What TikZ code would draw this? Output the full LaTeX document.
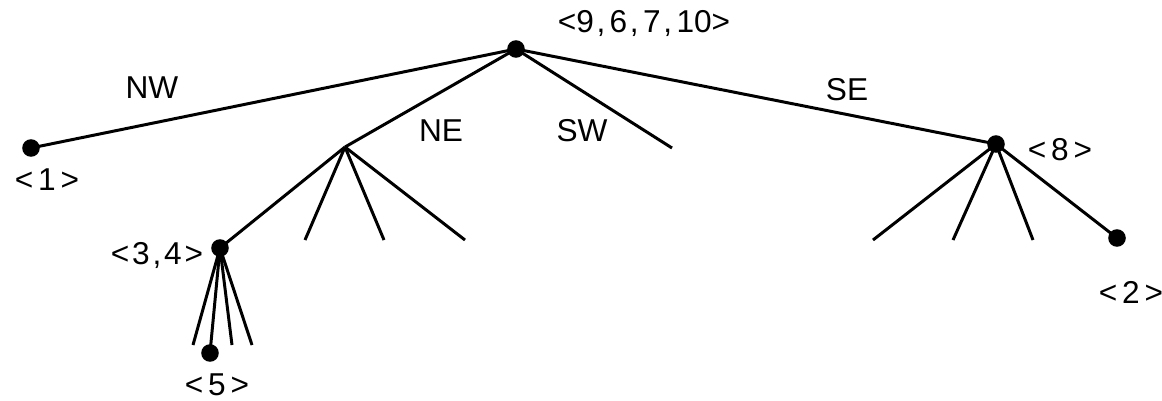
\documentclass[tikz,border=0pt]{standalone}
\usepackage{fontspec}
\setmainfont{Liberation Sans}
\newcommand{\cm}{\kern1.5pt,\kern2.5pt}
\newcommand{\gp}{\kern2.8pt}
\newcommand{\gq}{\kern1.6pt}
\tikzset{
  edge/.style={line width=1.7pt},
  dotnode/.style={circle,fill=black,inner sep=0pt,minimum size=10pt},
  lbl/.style={font=\fontsize{18}{20}\selectfont,inner sep=0pt}
}
\begin{document}
\begin{tikzpicture}[x=0.02cm,y=-0.02cm]
\useasboundingbox (0,0) rectangle (1162,400);
% nodes
\node[dotnode] (r) at (516,49) {};
\node[dotnode] (n1) at (31,148) {};
\coordinate (ne) at (345,147);
\coordinate (sw) at (672,148);
\node[dotnode] (se) at (996,144) {};
\node[dotnode] (n34) at (220,248) {};
\coordinate (ne2) at (305,240);
\coordinate (ne3) at (384,240);
\coordinate (ne4) at (465,240);
\coordinate (a1) at (193,345);
\node[dotnode] (n5) at (210,353) {};
\coordinate (a3) at (232,345);
\coordinate (a4) at (252,345);
\coordinate (s1) at (873,240);
\coordinate (s2) at (953,240);
\coordinate (s3) at (1033,240);
\node[dotnode] (n2) at (1117,238) {};
% edges
\draw[edge] (r.center) -- (n1.center);
\draw[edge] (r.center) -- (ne);
\draw[edge] (r.center) -- (sw);
\draw[edge] (r.center) -- (se.center);
\draw[edge] (ne) -- (n34.center);
\draw[edge] (ne) -- (ne2);
\draw[edge] (ne) -- (ne3);
\draw[edge] (ne) -- (ne4);
\draw[edge] (n34.center) -- (a1);
\draw[edge] (n34.center) -- (n5.center);
\draw[edge] (n34.center) -- (a3);
\draw[edge] (n34.center) -- (a4);
\draw[edge] (se.center) -- (s1);
\draw[edge] (se.center) -- (s2);
\draw[edge] (se.center) -- (s3);
\draw[edge] (se.center) -- (n2.center);
% labels
\node[lbl] (lr) at (644,23) {<9\cm6\cm7\cm10>};
\node[lbl] (lnw) at (152,88) {NW};
\node[lbl] (lne) at (441,131) {NE};
\node[lbl] (lsw) at (582,131) {SW};
\node[lbl] (lse) at (847,90) {SE};
\node[lbl] (l1) at (47,180) {<\gp1\gp>};
\node[lbl] (l8) at (1060,150) {<\gp8\gp>};
\node[lbl] (l34) at (157,255) {<\gq3\gq,\gq4\gq>};
\node[lbl] (l5) at (217,385) {<\gp5\gp>};
\node[lbl] (l2) at (1131,292) {<\gp2\gp>};
\end{tikzpicture}
\end{document}
